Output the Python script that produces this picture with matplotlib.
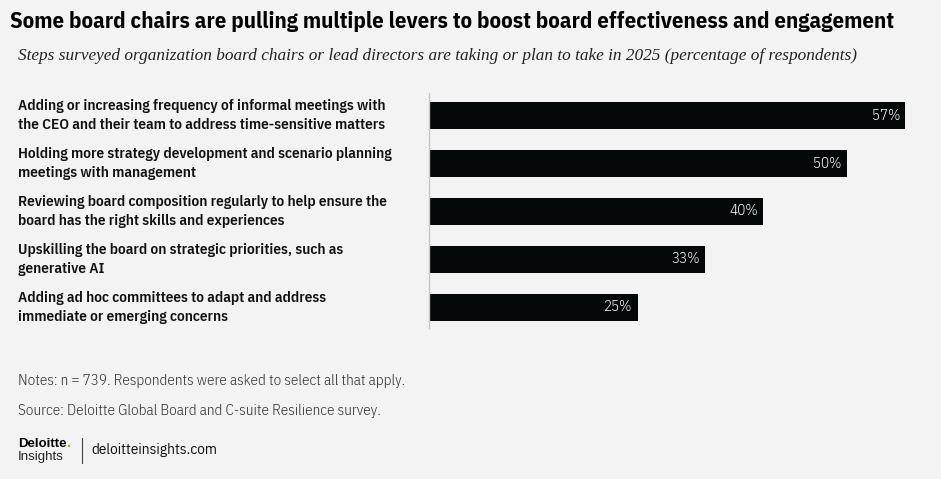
import matplotlib

matplotlib.use("Agg")
import matplotlib.pyplot as plt
from matplotlib.transforms import blended_transform_factory

# Data
categories = [
    "Adding or increasing frequency of informal meetings with\nthe CEO and their team to address time-sensitive matters",
    "Holding more strategy development and scenario planning\nmeetings with management",
    "Reviewing board composition regularly to help ensure the\nboard has the right skills and experiences",
    "Upskilling the board on strategic priorities, such as\ngenerative AI",
    "Adding ad hoc committees to adapt and address\nimmediate or emerging concerns",
]
values = [57, 50, 40, 33, 25]

title = "Some board chairs are pulling multiple levers to boost board effectiveness and engagement"
subtitle = ("Steps surveyed organization board chairs or lead directors are taking or plan "
            "to take in 2025 (percentage of respondents)")
notes = "Notes: n = 739. Respondents were asked to select all that apply."
source = "Source: Deloitte Global Board and C-suite Resilience survey."

BG = "#f3f3f3"
BAR = "#040708"
COND = ["IBM Plex Sans Condensed", "DejaVu Sans"]
SERIF = ["Liberation Serif", "DejaVu Serif"]

W, H = 941, 479
fig = plt.figure(figsize=(W / 100, H / 100), dpi=100, facecolor=BG)


def fx(px):
    return px / W


def fy(py):
    return 1 - py / H


ax = fig.add_axes([fx(429), fy(328), fx(941) - fx(429), fy(93) - fy(328)])
ax.set_facecolor(BG)

ypos = list(range(len(values)))
ax.barh(ypos, values, height=0.57, color=BAR)
ax.set_xlim(0, 61.3)
ax.set_ylim(4.43, -0.47)
ax.set_xticks([])
ax.set_yticks([])
for side in ["top", "right", "bottom"]:
    ax.spines[side].set_visible(False)
ax.spines["left"].set_color("#c8c8c8")
ax.spines["left"].set_linewidth(1)

for y, v in zip(ypos, values):
    ax.text(v - 0.6, y, f"{v}%", color="white", ha="right", va="center",
            fontsize=10.8, family=COND, fontweight=300)

# category labels, left aligned in figure px
tr = blended_transform_factory(fig.transFigure, ax.transData)
for y, lab in zip(ypos, categories):
    ax.text(fx(18), y, lab, transform=tr, ha="left", va="center",
            fontsize=11, fontweight=600, family=COND,
            color="#111111", linespacing=1.42)

fig.text(fx(10), fy(21), title, fontsize=16.4, fontweight="bold",
         family=COND, va="center", ha="left", color="#000000")
fig.text(fx(18), fy(56), subtitle, fontsize=12.45, style="italic",
         family=SERIF, va="center", ha="left", color="#222222")

fig.text(fx(18), fy(381), notes, fontsize=10.85, family=COND, fontweight=300,
         va="center", ha="left", color="#333333")
fig.text(fx(18), fy(411), source, fontsize=10.85, family=COND, fontweight=300,
         va="center", ha="left", color="#333333")

# footer logo
fig.text(fx(18), fy(444), "Deloitte", fontsize=9.5, fontweight="bold",
         family=["Liberation Sans", "DejaVu Sans"], va="center", ha="left",
         color="#000000")
fig.text(fx(67), fy(443), ".", fontsize=11, fontweight="bold",
         family=["Liberation Sans", "DejaVu Sans"], va="center", ha="left",
         color="#86bc25")
fig.text(fx(18), fy(457), "Insights", fontsize=9.5,
         family=["Liberation Sans", "DejaVu Sans"], va="center", ha="left",
         color="#222222")
fig.add_artist(plt.Line2D([fx(82), fx(82)], [fy(438), fy(463)],
                          transform=fig.transFigure, color="#444444", lw=0.8))
fig.text(fx(91), fy(450), "deloitteinsights.com", fontsize=11,
         family=COND, va="center", ha="left", color="#111111")

fig.savefig("out.png", dpi=100, facecolor=BG)
